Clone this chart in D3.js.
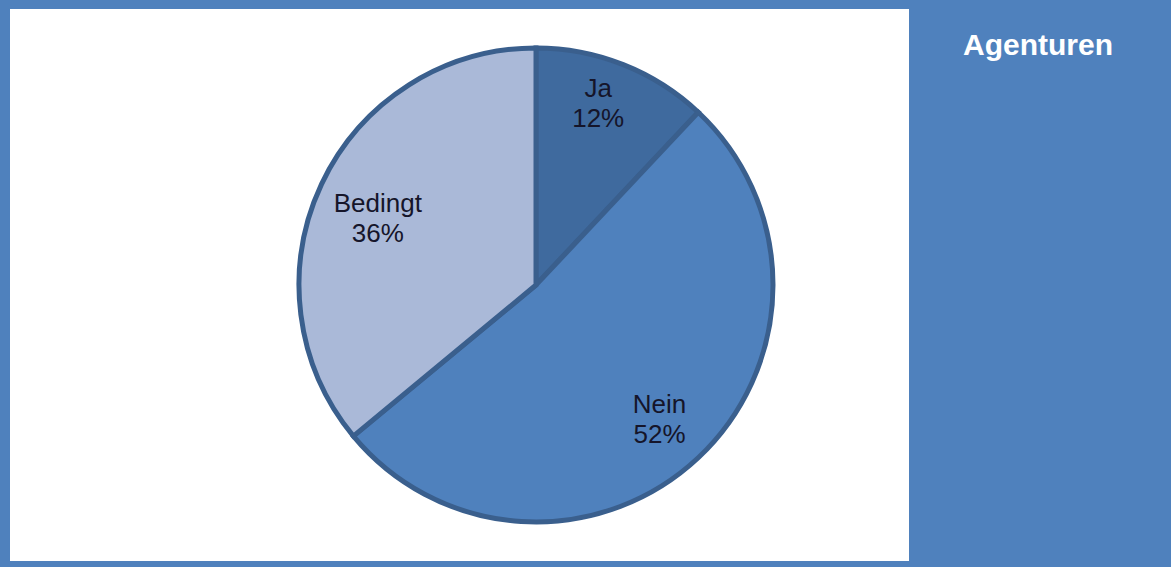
<!DOCTYPE html>
<html><head><meta charset="utf-8">
<script src="https://cdn.jsdelivr.net/npm/d3@7"></script>
<style>html,body{margin:0;padding:0;background:#4F81BD;overflow:hidden}</style>
</head><body>
<svg id="c" width="1171" height="567"></svg>
<script>
const categories = ["Ja", "Nein", "Bedingt"];
const values = [12, 52, 36];
const colors = ["#3F6A9E", "#4F81BD", "#AAB9D8"];
const title = "Agenturen";

const svg = d3.select("#c");
svg.append("rect").attr("width",1171).attr("height",567).attr("fill","#4F81BD");
svg.append("rect").attr("x",10).attr("y",9).attr("width",899).attr("height",552).attr("fill","#fff");

const cx = 536, cy = 285, R = 237;
const g = svg.append("g").attr("transform",`translate(${cx},${cy})`);
const data = categories.map((c,i)=>({cat:c, v:values[i], col:colors[i]}));
const pie = d3.pie().value(d=>d.v).sort(null);
const arcs = pie(data);
const arc = d3.arc().innerRadius(0).outerRadius(R);
g.selectAll("path").data(arcs).join("path")
  .attr("d",arc).attr("fill",d=>d.data.col)
  .attr("stroke","#3A5F8D").attr("stroke-width",5).attr("stroke-linejoin","miter");

// best-fit label placement (layout, not data): radius fraction and angular nudge (deg)
const fit = {"Ja":[0.81,-2.7], "Nein":[0.77,0.6], "Bedingt":[0.725,-2.2]};
function labelPos(d){
  const [f, da] = fit[d.data.cat];
  const a = (d.startAngle + d.endAngle)/2 + da*Math.PI/180;
  const r = R*f;
  return [r*Math.sin(a), -r*Math.cos(a)];
}
const lab = g.selectAll("text.l").data(arcs).join("text").attr("class","l")
  .attr("transform",d=>`translate(${labelPos(d)})`)
  .attr("text-anchor","middle")
  .attr("font-family","'Liberation Sans', Arial, sans-serif")
  .attr("font-size",26).attr("fill","#15152a");
lab.append("tspan").attr("x",0).attr("y",-6).text(d=>d.data.cat);
lab.append("tspan").attr("x",0).attr("y",24).text(d=>d.data.v+"%");

svg.append("text").attr("x",1038).attr("y",55).attr("text-anchor","middle")
  .attr("font-family","'Liberation Sans', Arial, sans-serif").attr("font-weight","bold")
  .attr("font-size",30).attr("fill","#fff").text(title);
</script>
</body></html>
